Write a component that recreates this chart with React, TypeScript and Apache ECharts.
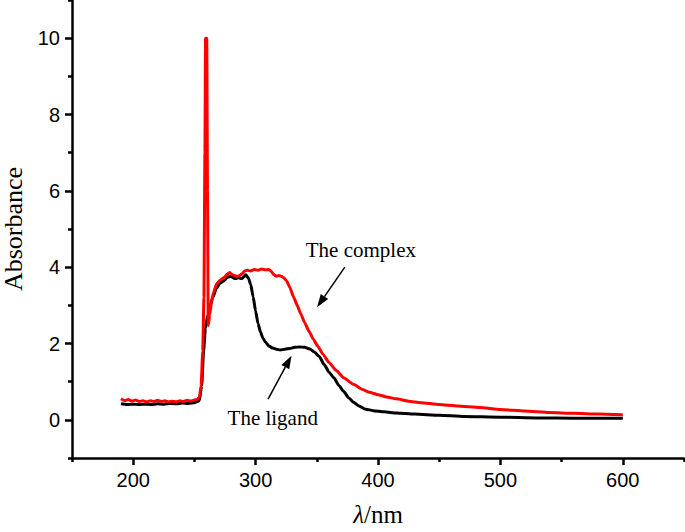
import React, { useEffect, useRef } from "react";
import * as echarts from "echarts";

const complexX = [190,193,196,199,202,205,208,211,214,217,220,223,226,229,232,235,238,241,244,247,250,252,254,255.5,256.8,257.8,258.6,259.1,260.1,260.7,261.3,262.5,264,265.5,268,271,274,277,279,281,283,285,287,289,291,293,296,299,302,305,308,311,313,315,317,319,321,323,325,328,331,334,337,340,344,347,351,355,360,366,372,380,387,393,400,407,415,425,435,450,465,483,500,520,540,560,580,600];
const complexY = [0.55,0.50,0.53,0.49,0.52,0.48,0.50,0.47,0.50,0.48,0.51,0.48,0.50,0.47,0.49,0.47,0.50,0.48,0.51,0.49,0.52,0.53,0.58,0.90,1.80,3.20,7.0,10.0,10.0,6.0,2.47,2.75,3.10,3.32,3.55,3.66,3.72,3.82,3.86,3.80,3.78,3.75,3.78,3.83,3.90,3.92,3.90,3.94,3.92,3.95,3.93,3.94,3.88,3.80,3.76,3.78,3.76,3.72,3.66,3.47,3.22,3.00,2.77,2.55,2.30,2.12,1.92,1.72,1.50,1.29,1.10,0.93,0.80,0.72,0.66,0.60,0.55,0.49,0.45,0.40,0.36,0.32,0.27,0.23,0.19,0.17,0.15,0.13];

const ligandX = [190,195,200,205,210,215,220,225,230,235,240,245,250,254,256,257.5,259,261,263,265,268,271,274,277,280,283,286,289,292,294,296,298,300,302,304,306,308,311,314,317,320,324,328,332,336,340,344,348,352,356,360,364,368,372,376,380,384,390,396,405,415,430,450,470,500,530,560,600];
const ligandY = [0.42,0.40,0.41,0.40,0.41,0.40,0.42,0.41,0.43,0.42,0.44,0.43,0.45,0.50,0.90,1.80,2.40,2.75,3.00,3.20,3.45,3.58,3.64,3.74,3.76,3.70,3.72,3.70,3.80,3.72,3.55,3.22,2.85,2.52,2.30,2.14,2.04,1.93,1.88,1.85,1.83,1.85,1.87,1.90,1.91,1.90,1.86,1.78,1.66,1.45,1.25,1.10,0.90,0.74,0.58,0.46,0.37,0.28,0.24,0.21,0.18,0.15,0.12,0.09,0.07,0.05,0.04,0.04];

const xRange = [150, 650];
const yRange = [-1, 11];
const xMajorTicks = [200, 300, 400, 500, 600];
const xMinorTicks = [150, 250, 350, 450, 550, 650];
const yMajorTicks = [0, 2, 4, 6, 8, 10];
const yMinorTicks = [-1, 1, 3, 5, 7, 9, 11];

// annotation anchors in data coordinates
const complexLabel = { text: "The complex", at: [386, 4.44] };
const complexArrow = { from: [372.9, 4.0], to: [350.2, 2.95] };
const ligandLabel = { text: "The ligand", at: [314, 0.05] };
const ligandArrow = { from: [310.2, 0.54], to: [329.3, 1.68] };

const serif = "'Liberation Serif', 'Times New Roman', serif";
const sans = "'Liberation Sans', Arial, sans-serif";

function zip(xs: number[], ys: number[]) {
  return xs.map((x, i) => [x, ys[i]]);
}

export default function App() {
  const ref = useRef<HTMLDivElement>(null);
  useEffect(() => {
    if (!ref.current) return;
    const chart = echarts.init(ref.current, null, { renderer: "svg" });
    const lineStyle = { color: "#000", width: 2.5 };
    const majorAxis = (range: number[], ticks: number[]) => ({
      type: "value",
      min: range[0],
      max: range[1],
      axisLine: { show: true, onZero: false, lineStyle },
      axisTick: { show: true, inside: false, length: 7, customValues: ticks, lineStyle },
      splitLine: { show: false },
      axisLabel: { color: "#000", fontFamily: sans, fontSize: 20, margin: 12, customValues: ticks },
    });
    const minorAxis = (range: number[], ticks: number[]) => ({
      type: "value",
      min: range[0],
      max: range[1],
      offset: 0,
      axisLine: { show: false, onZero: false },
      axisTick: { show: true, inside: false, length: 4, customValues: ticks, lineStyle },
      splitLine: { show: false },
      axisLabel: { show: false },
    });
    chart.setOption({
      animation: false,
      backgroundColor: "#fff",
      grid: { left: 72, right: 1, top: 0, bottom: 74, containLabel: false, outerBoundsMode: "none" },
      xAxis: [
        {
          ...majorAxis(xRange, xMajorTicks),
          position: "bottom",
          name: "{i|λ}/nm",
          nameLocation: "middle",
          nameGap: 44,
          nameTextStyle: {
            color: "#000",
            fontFamily: serif,
            fontSize: 25,
            rich: { i: { fontStyle: "italic", fontFamily: serif, fontSize: 25, color: "#000" } },
          },
        },
        { ...minorAxis(xRange, xMinorTicks), position: "bottom" },
      ],
      yAxis: [
        {
          ...majorAxis(yRange, yMajorTicks),
          position: "left",
          name: "Absorbance",
          nameLocation: "middle",
          nameGap: 46,
          nameTextStyle: { color: "#000", fontFamily: serif, fontSize: 26 },
        },
        { ...minorAxis(yRange, yMinorTicks), position: "left" },
      ],
      series: [
        {
          name: "The ligand",
          type: "line",
          xAxisIndex: 0,
          yAxisIndex: 0,
          data: zip(ligandX, ligandY),
          showSymbol: false,
          smooth: 0.2,
          smoothMonotone: "x",
          lineStyle: { color: "#000", width: 3 },
          z: 2,
        },
        {
          name: "The complex",
          type: "line",
          xAxisIndex: 0,
          yAxisIndex: 0,
          data: zip(complexX, complexY),
          showSymbol: false,
          smooth: 0.15,
          smoothMonotone: "x",
          lineStyle: { color: "#ff0000", width: 3 },
          z: 3,
        },
      ],
    });

    const px = (p: number[]) => chart.convertToPixel({ xAxisIndex: 0, yAxisIndex: 0 }, p) as number[];
    const arrow = (from: number[], to: number[]) => {
      const a = px(from);
      const b = px(to);
      const dx = b[0] - a[0];
      const dy = b[1] - a[1];
      const len = Math.sqrt(dx * dx + dy * dy);
      const ux = dx / len;
      const uy = dy / len;
      const hl = 13;
      const hw = 4.5;
      const base = [b[0] - ux * hl, b[1] - uy * hl];
      return [
        {
          type: "line",
          shape: { x1: a[0], y1: a[1], x2: base[0], y2: base[1] },
          style: { stroke: "#000", lineWidth: 1.5 },
          z: 10,
        },
        {
          type: "polygon",
          shape: {
            points: [
              [b[0], b[1]],
              [base[0] - uy * hw, base[1] + ux * hw],
              [base[0] + uy * hw, base[1] - ux * hw],
            ],
          },
          style: { fill: "#000" },
          z: 10,
        },
      ];
    };
    const label = (t: string, at: number[]) => {
      const p = px(at);
      return {
        type: "text",
        x: p[0],
        y: p[1],
        style: {
          text: t,
          fill: "#000",
          font: `21px ${serif}`,
          align: "center",
          verticalAlign: "middle",
        },
        z: 10,
      };
    };
    chart.setOption({
      graphic: [
        label(complexLabel.text, complexLabel.at),
        ...arrow(complexArrow.from, complexArrow.to),
        label(ligandLabel.text, ligandLabel.at),
        ...arrow(ligandArrow.from, ligandArrow.to),
      ],
    });

    return () => chart.dispose();
  }, []);
  return (
    <div
      ref={ref}
      style={{ position: "fixed", left: 0, top: 0, width: 685, height: 532 }}
    />
  );
}
